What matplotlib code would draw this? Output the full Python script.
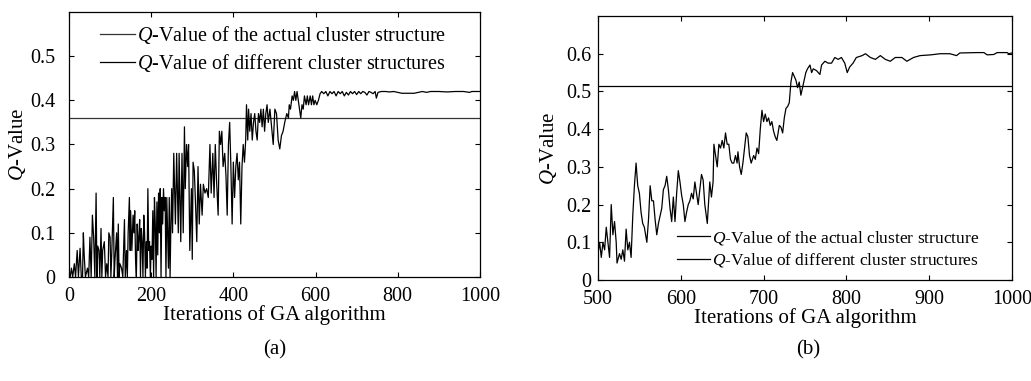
import matplotlib
matplotlib.use("Agg")
import matplotlib.pyplot as plt

plt.rcParams["font.family"] = ["Liberation Serif", "DejaVu Serif"]
plt.rcParams["mathtext.fontset"] = "custom"
plt.rcParams["mathtext.rm"] = "Liberation Serif"
plt.rcParams["mathtext.it"] = "Liberation Serif:italic"

# (a) full run, iterations 0-1000
iter_a = [0, 3, 6, 9, 13, 16, 20, 23, 27, 30, 33, 35, 37, 40, 45, 48, 51, 54, 57, 60,
          63, 66, 68, 70, 73, 75, 78, 80, 82, 86, 89, 92, 95, 97, 100, 102, 104, 108, 110, 112,
          116, 118, 120, 122, 124, 128, 131, 135, 137, 140, 142, 144, 147, 149,
          150, 153, 156, 158, 160, 162, 164, 166, 168, 170, 172, 174, 176, 178, 180, 182,
          184, 186, 188, 190, 192, 194, 196, 198, 200, 202, 204, 206, 208, 210, 212, 214,
          216, 218, 220, 222, 224, 226, 228, 230, 232, 234, 236, 238, 240, 242, 244, 246,
          248, 250, 252, 255, 259, 262, 266, 268, 272, 275, 278, 281, 283, 286, 289, 291,
          294, 298, 300, 302, 305, 307, 311, 314, 317, 320, 324, 327, 331, 335, 339, 343,
          346, 350, 353, 356, 359, 363, 366, 369, 372, 375, 379, 382, 385, 388, 391, 394,
          397, 400, 403, 406, 409, 412, 415, 418, 421, 424, 427, 430, 432, 435, 437, 440,
          443, 446, 449, 452, 455, 458, 461, 464, 467, 470, 473, 476, 479, 482, 485, 489,
          493, 497, 501, 505, 509, 513, 517, 521, 525, 530, 534, 536, 539, 543, 546, 549,
          552, 555, 558, 561, 564, 567, 570, 573, 577, 580, 583, 587, 590, 593, 596, 599,
          603, 607, 611, 615, 620, 625, 630, 635, 640, 645, 650, 655, 660, 665, 670, 675,
          680, 685, 690, 695, 700, 705, 710, 715, 720, 725, 730, 735, 740, 745, 748, 752,
          760, 770, 780, 790, 800, 810, 840, 850, 860, 870, 880, 900, 920, 940, 960, 975,
          980, 1000]
q_a = [0.0, 0.0, 0.02, 0.0, 0.03, 0.0, 0.06, 0.0, 0.065, 0.0, 0.0, 0.1, 0.05, 0.0, 0.02, 0.0, 0.09, 0.0, 0.14, 0.09,
       0.0, 0.19, 0.0, 0.07, 0.06, 0.0, 0.11, 0.0, 0.06, 0.08, 0.0, 0.03, 0.0, 0.1, 0.09, 0.0, 0.05, 0.18, 0.0, 0.04,
       0.1, 0.0, 0.12, 0.0, 0.03, 0.02, 0.0, 0.13, 0.0, 0.06, 0.0, 0.1, 0.18, 0.06,
       0.15, 0.06, 0.14, 0.1, 0.15, 0.04, 0.0, 0.12, 0.06, 0.09, 0.13, 0.0, 0.11, 0.08, 0.0, 0.14,
       0.1, 0.0, 0.08, 0.02, 0.2, 0.06, 0.08, 0.0, 0.07, 0.04, 0.15, 0.0, 0.18, 0.12, 0.0, 0.17,
       0.05, 0.19, 0.1, 0.2, 0.0, 0.18, 0.12, 0.2, 0.15, 0.18, 0.0, 0.18, 0.1, 0.02, 0.18, 0.0,
       0.12, 0.2, 0.1, 0.28, 0.12, 0.28, 0.1, 0.28, 0.08, 0.28, 0.1, 0.34, 0.2, 0.3, 0.25, 0.3,
       0.06, 0.2, 0.04, 0.26, 0.24, 0.19, 0.08, 0.25, 0.12, 0.21, 0.14, 0.21, 0.19, 0.2, 0.18, 0.3,
       0.19, 0.28, 0.18, 0.3, 0.22, 0.14, 0.33, 0.3, 0.33, 0.25, 0.28, 0.23, 0.14, 0.3, 0.35, 0.25,
       0.12, 0.26, 0.18, 0.25, 0.28, 0.22, 0.26, 0.12, 0.25, 0.3, 0.26, 0.31, 0.39, 0.31, 0.38, 0.33,
       0.37, 0.31, 0.35, 0.37, 0.33, 0.31, 0.37, 0.35, 0.38, 0.34, 0.38, 0.33, 0.37, 0.39, 0.35, 0.38,
       0.34, 0.3, 0.38, 0.37, 0.31, 0.29, 0.32, 0.33, 0.35, 0.37, 0.36, 0.39, 0.38, 0.41, 0.4, 0.42,
       0.4, 0.42, 0.4, 0.38, 0.36, 0.39, 0.38, 0.41, 0.39, 0.41, 0.39, 0.41, 0.39, 0.41, 0.39, 0.4,
       0.39, 0.4, 0.415, 0.42, 0.415, 0.42, 0.41, 0.42, 0.415, 0.42, 0.41, 0.42, 0.415, 0.42, 0.41, 0.418,
       0.412, 0.42, 0.415, 0.42, 0.413, 0.42, 0.415, 0.42, 0.418, 0.412, 0.42, 0.418, 0.415, 0.42, 0.405, 0.418,
       0.42, 0.42, 0.419, 0.42, 0.418, 0.416, 0.416, 0.418, 0.42, 0.418, 0.42, 0.42, 0.419, 0.42, 0.42, 0.418,
       0.42, 0.42]
actual_a = 0.36

# (b) zoom on iterations 500-1000
iter_b = [500, 502, 504, 506, 508, 510, 512, 514, 516, 518, 520, 522, 523, 526, 528, 530, 532, 534, 536, 538,
          540, 542, 544, 546, 548, 550, 552, 554, 556, 559, 561, 563, 565, 567, 569, 571, 573, 575, 577, 579,
          581, 583, 585, 587, 589, 591, 593, 595, 597, 599, 601, 603, 605, 607, 609, 611, 613, 615, 617, 619,
          621, 623, 625, 627, 629, 632, 635, 637, 639, 640, 642, 644, 646, 648, 650, 652, 654, 656, 658, 660,
          662, 664, 666, 668, 669, 671, 673, 675, 677, 679, 681, 683, 685, 688, 690, 692, 694, 696, 698, 700,
          702, 704, 706, 708, 710, 712, 714, 716, 719, 721, 723, 725, 727, 729, 731, 733, 735, 737, 739, 741,
          743, 745, 747, 749, 751, 753, 756, 758, 760, 764, 768, 770, 774, 778, 782, 786, 790, 794, 798, 801,
          804, 808, 812, 819, 823, 829, 835, 841, 847, 853, 859, 867, 873, 881, 889, 902, 913, 925, 933, 937,
          958, 966, 970, 978, 982, 994, 996, 1000]
q_b = [0.07, 0.1, 0.06, 0.1, 0.08, 0.14, 0.1, 0.06, 0.2, 0.12, 0.155, 0.1, 0.045, 0.07, 0.055, 0.08, 0.05, 0.135, 0.08, 0.1,
       0.06, 0.17, 0.25, 0.31, 0.25, 0.23, 0.18, 0.15, 0.14, 0.1, 0.16, 0.25, 0.21, 0.21, 0.16, 0.12, 0.15, 0.17, 0.19, 0.24,
       0.25, 0.275, 0.24, 0.19, 0.155, 0.22, 0.155, 0.23, 0.29, 0.26, 0.225, 0.2, 0.155, 0.18, 0.2, 0.21, 0.23, 0.215, 0.26, 0.23,
       0.2, 0.24, 0.28, 0.265, 0.2, 0.15, 0.26, 0.22, 0.26, 0.36, 0.33, 0.3, 0.36, 0.35, 0.37, 0.35, 0.39, 0.36, 0.36, 0.32,
       0.31, 0.31, 0.33, 0.31, 0.34, 0.3, 0.28, 0.31, 0.35, 0.39, 0.38, 0.33, 0.31, 0.33, 0.32, 0.35, 0.335, 0.4, 0.45, 0.42,
       0.44, 0.42, 0.43, 0.41, 0.42, 0.395, 0.38, 0.37, 0.41, 0.405, 0.39, 0.43, 0.455, 0.46, 0.47, 0.525, 0.55, 0.54, 0.53, 0.51,
       0.525, 0.49, 0.51, 0.53, 0.55, 0.56, 0.57, 0.55, 0.56, 0.555, 0.545, 0.57, 0.58, 0.575, 0.575, 0.59, 0.585, 0.59, 0.575, 0.55,
       0.565, 0.575, 0.59, 0.595, 0.6, 0.59, 0.585, 0.595, 0.585, 0.58, 0.59, 0.59, 0.58, 0.59, 0.595, 0.597, 0.6, 0.6, 0.595, 0.602,
       0.603, 0.603, 0.597, 0.598, 0.603, 0.603, 0.6, 0.602]
actual_b = 0.515

legend_labels = ["$Q$-Value of the actual cluster structure",
                 "$Q$-Value of different cluster structures"]

fig = plt.figure(figsize=(10.31, 3.81), dpi=100)
ax1 = fig.add_axes([0.0669, 0.273, 0.3986, 0.6955])
ax2 = fig.add_axes([0.580, 0.265, 0.4016, 0.693])


def style(ax, xlim, ylim, xticks, yticks, ylabels, ypad, ylabelpad):
    ax.set_xlim(*xlim)
    ax.set_ylim(*ylim)
    ax.set_xticks(xticks)
    ax.set_yticks(yticks)
    ax.set_yticklabels(ylabels)
    ax.tick_params(direction="in", top=True, right=True, length=3.6, width=0.8, labelsize=14.5)
    ax.tick_params(axis="x", pad=7.5)
    ax.tick_params(axis="y", pad=ypad)
    for s in ax.spines.values():
        s.set_linewidth(0.9)
    ax.set_xlabel("Iterations of GA algorithm", fontsize=15, labelpad=-1)
    ax.set_ylabel("$Q$-Value", fontsize=15, labelpad=ylabelpad)


# panel (a)
ax1.axhline(actual_a, color="#333333", lw=0.9, label=legend_labels[0])
ax1.plot(iter_a, q_a, color="black", lw=0.9, label=legend_labels[1])
style(ax1, (0, 1000), (0, 0.6), range(0, 1001, 200),
      [0, 0.1, 0.2, 0.3, 0.4, 0.5], ["0", "0.1", "0.2", "0.3", "0.4", "0.5"], 10, 1.5)
ax1.legend(loc="upper left", bbox_to_anchor=(0.075, 0.955), frameon=False, fontsize=14.5,
           handlelength=1.75, handletextpad=0.12, labelspacing=0.28, borderpad=0, borderaxespad=0)

# panel (b)
ax2.axhline(actual_b, color="black", lw=0.9, label=legend_labels[0])
ax2.plot(iter_b, q_b, color="black", lw=0.9, label=legend_labels[1])
style(ax2, (500, 1000), (0, 0.7), range(500, 1001, 100),
      [0, 0.1, 0.2, 0.3, 0.4, 0.5, 0.6], ["0", "0.1", "0.2", "0.3", "0.4", "0.5", "0.6"], 5, 5)
ax2.legend(loc="lower left", bbox_to_anchor=(0.191, 0.04), frameon=False, fontsize=12.5,
           handlelength=1.9, handletextpad=0.12, labelspacing=0.28, borderpad=0, borderaxespad=0)

fig.text(275 / 1031, 1 - 350 / 381, "(a)", ha="center", va="center", fontsize=15)
fig.text(808 / 1031, 1 - 350 / 381, "(b)", ha="center", va="center", fontsize=15)

fig.savefig("out.png", dpi=100)
